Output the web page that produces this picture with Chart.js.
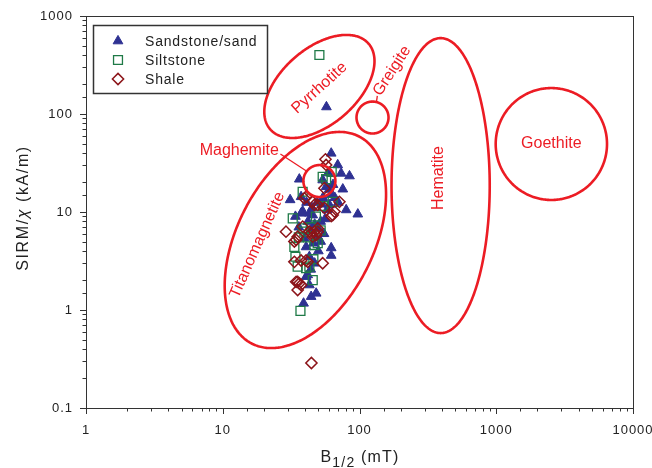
<!DOCTYPE html>
<html><head><meta charset="utf-8">
<script src="https://cdn.jsdelivr.net/npm/chart.js@4/dist/chart.umd.min.js"></script>
<style>html,body{margin:0;padding:0;background:#fff}#wrap{width:652px;height:468px}</style>
</head><body><div id="wrap"><canvas id="c" width="652" height="468"></canvas></div>
<script>
// ---- data (B1/2 in mT, SIRM/chi in kA/m) ----
const sandstone = [
 [57.3,118],[62.1,39.7],[69.3,30.2],[73.4,24.8],[84.5,23.3],[36.3,21.6],[53.8,21.2],[57.0,18.1],
 [75.5,17.1],[31.1,13.3],[37.4,14.3],[60.3,11.8],[79.9,10.5],[97.2,9.5],[38.4,10.2],[45.5,9.3],
 [37.4,9.7],[43.0,9.7],[62.1,4.3],[62.1,3.6],[39.5,5.4],[40.7,4.4],[43.0,3.5],[41.8,2.28],
 [40.7,2.19],[43.0,1.80],[48.2,1.48],[44.3,1.37],[39.0,1.17],
 [47,7.5],[50,6.8],[52,8],[48,5.5],[55,6],[44,6.5],[46,4.8],[52,5],[50,4],[42,8],[56,8.5],
 [58,10.5],[53,12],[49,12.5],[54,14],[62,15],[66,14],[70,12.5],[45,11],[41,12.5],[59,25],
 [64,19],[60,17],[36,7],[34,9],[47,3],[44,2.6]
];
const siltstone = [
 [50.9,400],[37.0,0.98],[53.8,22.9],[57.0,21.6],[38.4,16.1],[63.7,12.7],[32.5,8.6],[39.5,6.3],
 [49.5,4.8],[33.4,4.4],[35.3,2.77],[40.7,2.67],[45.5,2.02],[62.6,25.7],[46.8,4.6],[38.4,6.8],
 [43.0,2.77],[44,7],[48,9],[42,5.5],[52,6.5],[36,5.5],[46,3.3],[34,3.5],[54,11.5]
];
const shale = [
 [44.5,0.288],[56.4,34.5],[57.0,30.2],[55.4,17.5],[39.5,13.8],[45.5,12.7],[49.5,11.8],[71.3,12.7],
 [65.6,10.1],[62.1,9.1],[29.0,6.3],[33.4,5.0],[35.3,5.6],[44.3,6.1],[49.5,6.3],[33.4,3.1],
 [37.4,3.2],[41.8,3.1],[53.8,3.0],[35.3,1.94],[37.4,1.80],[36.3,1.87],[35.3,1.60],[40.7,14.3],
 [46.8,11.8],[55.4,11.0],[63.7,9.3],[43.0,6.3],[46.8,6.3],[48.2,5.8],[45.5,5.6],[49.5,6.8],
 [38.4,7.1],[34.4,5.2],[40.7,3.2],[34.4,1.94]
];
const seriesNames = ['Sandstone/sand','Siltstone','Shale'];
const xRange = [1, 10000];
const yRange = [0.1, 1000];

// mineral fields: centre (data) and conjugate semi-axes in decades (log10 units)
const fields = [
 {name:'Titanomagnetite', cx:40.2, cy:5.18, ux:0.393, uy:1.056, vx:0.440, vy:-0.318},
 {name:'Pyrrhotite', cx:50.9, cy:191, ux:0.359, uy:0.438, vx:0.183, vy:-0.291},
 {name:'Greigite', cx:124.5, cy:92, ux:0.117, uy:0, vx:0, vy:0.163},
 {name:'Hematite', cx:392, cy:18.6, ux:0.359, uy:0, vx:0, vy:1.505},
 {name:'Goethite', cx:2529, cy:49.4, ux:0.407, uy:0, vx:0, vy:0.571},
 {name:'Maghemite', cx:50.9, cy:20.7, ux:0.117, uy:0, vx:0, vy:0.163}
];
const fieldLabels = [
 {text:'Pyrrhotite', x:50.9, y:184, angle:-42},
 {text:'Greigite', x:173, y:275, angle:-57},
 {text:'Hematite', x:379, y:22.2, angle:-90},
 {text:'Goethite', x:2529, y:49.4, angle:0},
 {text:'Titanomagnetite', x:17.9, y:4.6, angle:-66},
 {text:'Maghemite', x:13.2, y:41.9, angle:0}
];
const leaders = [
 {from:[26.4,39.1], to:[40.9,26.2]},
 {from:[133,132], to:[135,153]}
];

const RED = '#ec1c24';
const FONT = '"Liberation Sans", Arial, sans-serif';
const toXY = a => a.map(p => ({x:p[0], y:p[1]}));
const isDecade = v => Math.abs(Math.log10(v) - Math.round(Math.log10(v))) < 1e-6;

const styles = [
 {pointStyle:'triangle', pointRadius:5.6, backgroundColor:'#2e3192', borderColor:'#2e3192', borderWidth:1, order:3},
 {pointStyle:'rect', pointRadius:6.3, backgroundColor:'rgba(0,0,0,0)', borderColor:'#1f7a47', borderWidth:1.3, order:2},
 {pointStyle:'rectRot', pointRadius:5.6, backgroundColor:'rgba(0,0,0,0)', borderColor:'#8c1419', borderWidth:1.5, order:1}
];
const dataSets = [sandstone, siltstone, shale];

const framePlugin = {
 id:'frame',
 beforeDraw(chart){ chart.ctx.letterSpacing = '1px'; },
 afterDatasetsDraw(chart){
  const ctx = chart.ctx, xs = chart.scales.x, ys = chart.scales.y;
  ctx.save();
  ctx.strokeStyle = RED; ctx.lineWidth = 2.6;
  fields.forEach(f => {
   const lx0 = Math.log10(f.cx), ly0 = Math.log10(f.cy);
   ctx.beginPath();
   for (let i = 0; i <= 360; i++) {
    const t = i * Math.PI / 180;
    const lx = lx0 + f.ux*Math.cos(t) + f.vx*Math.sin(t);
    const ly = ly0 + f.uy*Math.cos(t) + f.vy*Math.sin(t);
    const px = xs.getPixelForValue(Math.pow(10,lx)), py = ys.getPixelForValue(Math.pow(10,ly));
    if (i===0) ctx.moveTo(px,py); else ctx.lineTo(px,py);
   }
   ctx.closePath(); ctx.stroke();
  });
  ctx.lineWidth = 1.3;
  leaders.forEach(l => {
   ctx.beginPath();
   ctx.moveTo(xs.getPixelForValue(l.from[0]), ys.getPixelForValue(l.from[1]));
   ctx.lineTo(xs.getPixelForValue(l.to[0]), ys.getPixelForValue(l.to[1]));
   ctx.stroke();
  });
  ctx.fillStyle = RED; ctx.font = '16px ' + FONT; ctx.letterSpacing = '0px';
  ctx.textAlign = 'center'; ctx.textBaseline = 'middle';
  fieldLabels.forEach(l => {
   ctx.save();
   ctx.translate(xs.getPixelForValue(l.x), ys.getPixelForValue(l.y));
   ctx.rotate(l.angle*Math.PI/180);
   ctx.fillText(l.text, 0, 0);
   ctx.restore();
  });
  ctx.restore();
 },
 afterDraw(chart){
  const ctx = chart.ctx, xs = chart.scales.x, ys = chart.scales.y, a = chart.chartArea;
  ctx.save();
  ctx.strokeStyle = '#333'; ctx.lineWidth = 1;
  ctx.strokeRect(Math.round(a.left)+0.5, Math.round(a.top)+0.5, Math.round(a.right-a.left), Math.round(a.bottom-a.top));
  ctx.beginPath();
  xs.ticks.forEach(t => {
   const px = Math.round(xs.getPixelForValue(t.value))+0.5;
   const len = isDecade(t.value) ? 6 : 3.5;
   ctx.moveTo(px, a.bottom); ctx.lineTo(px, a.bottom+len);
  });
  ys.ticks.forEach(t => {
   const py = Math.round(ys.getPixelForValue(t.value))+0.5;
   const len = isDecade(t.value) ? 6 : 3.5;
   ctx.moveTo(a.left, py); ctx.lineTo(a.left-len, py);
  });
  ctx.stroke();
  ctx.fillStyle = '#222';
  ctx.textBaseline = 'alphabetic';
  ctx.save();
  ctx.translate(28, 208);
  ctx.rotate(-Math.PI/2);
  const segs = [['SIRM/','normal'],['χ','italic'],[' (kA/m)','normal']];
  ctx.letterSpacing = '1.6px';
  let tot = 0;
  segs.forEach(s => { ctx.font = s[1]+' 16px '+FONT; tot += ctx.measureText(s[0]).width; });
  let cx = -tot/2;
  segs.forEach(s => { ctx.font = s[1]+' 16px '+FONT; ctx.textAlign='left'; ctx.fillText(s[0], cx, 0); cx += ctx.measureText(s[0]).width; });
  ctx.restore();
  const xs1 = [['B','16px',0],['1/2','14px',5],[' (mT)','16px',0]];
  ctx.letterSpacing = '1.2px';
  tot = 0;
  xs1.forEach(s => { ctx.font = s[1]+' '+FONT; tot += ctx.measureText(s[0]).width; });
  cx = 360 - tot/2;
  ctx.textAlign = 'left';
  xs1.forEach(s => { ctx.font = s[1]+' '+FONT; ctx.fillText(s[0], cx, 461.5 + s[2]); cx += ctx.measureText(s[0]).width; });
  // legend
  const L = {x:93, y:25, w:174, h:68};
  ctx.fillStyle = '#fff'; ctx.fillRect(L.x, L.y, L.w, L.h);
  ctx.strokeStyle = '#333'; ctx.lineWidth = 1.5;
  ctx.strokeRect(L.x+0.5, L.y+0.5, L.w, L.h);
  chart.data.datasets.forEach((ds, i) => {
   const yy = 41 + i*19;
   ctx.fillStyle = ds.backgroundColor; ctx.strokeStyle = ds.borderColor; ctx.lineWidth = ds.borderWidth;
   Chart.helpers.drawPoint(ctx, {pointStyle: ds.pointStyle, radius: ds.pointRadius, borderWidth: ds.borderWidth, rotation:0}, 118, yy);
   ctx.fillStyle = '#222'; ctx.font = '14px '+FONT; ctx.letterSpacing = '0.8px';
   ctx.textAlign = 'left'; ctx.textBaseline = 'middle';
   ctx.fillText(ds.label, 145, yy+1);
  });
  ctx.restore();
 }
};

new Chart(document.getElementById('c'), {
 type:'scatter',
 data:{ datasets: dataSets.map((d,i) => Object.assign({label: seriesNames[i], data: toXY(d)}, styles[i])) },
 options:{
  responsive:false, animation:false, devicePixelRatio:1,
  layout:{padding:{left:0, top:16, right:19, bottom:0}},
  plugins:{legend:{display:false}, tooltip:{enabled:false}},
  scales:{
   x:{type:'logarithmic', min:xRange[0], max:xRange[1],
      grid:{display:false}, border:{display:false},
      ticks:{autoSkip:false, maxRotation:0, padding:7, color:'#222', font:{family:FONT, size:13},
             callback:(v) => isDecade(v) ? String(v) : ''},
      afterFit:(s) => { s.height = 60; s.paddingLeft = 0; s.paddingRight = 0; }},
   y:{type:'logarithmic', min:yRange[0], max:yRange[1],
      grid:{display:false}, border:{display:false},
      ticks:{autoSkip:false, padding:5, color:'#222', font:{family:FONT, size:13},
             callback:(v) => isDecade(v) ? (v < 1 ? '0.1' : String(Math.round(v))) : ''},
      afterFit:(s) => { s.width = 86; s.paddingTop = 0; s.paddingBottom = 0; }}
  }
 },
 plugins:[framePlugin]
});
</script></body></html>
